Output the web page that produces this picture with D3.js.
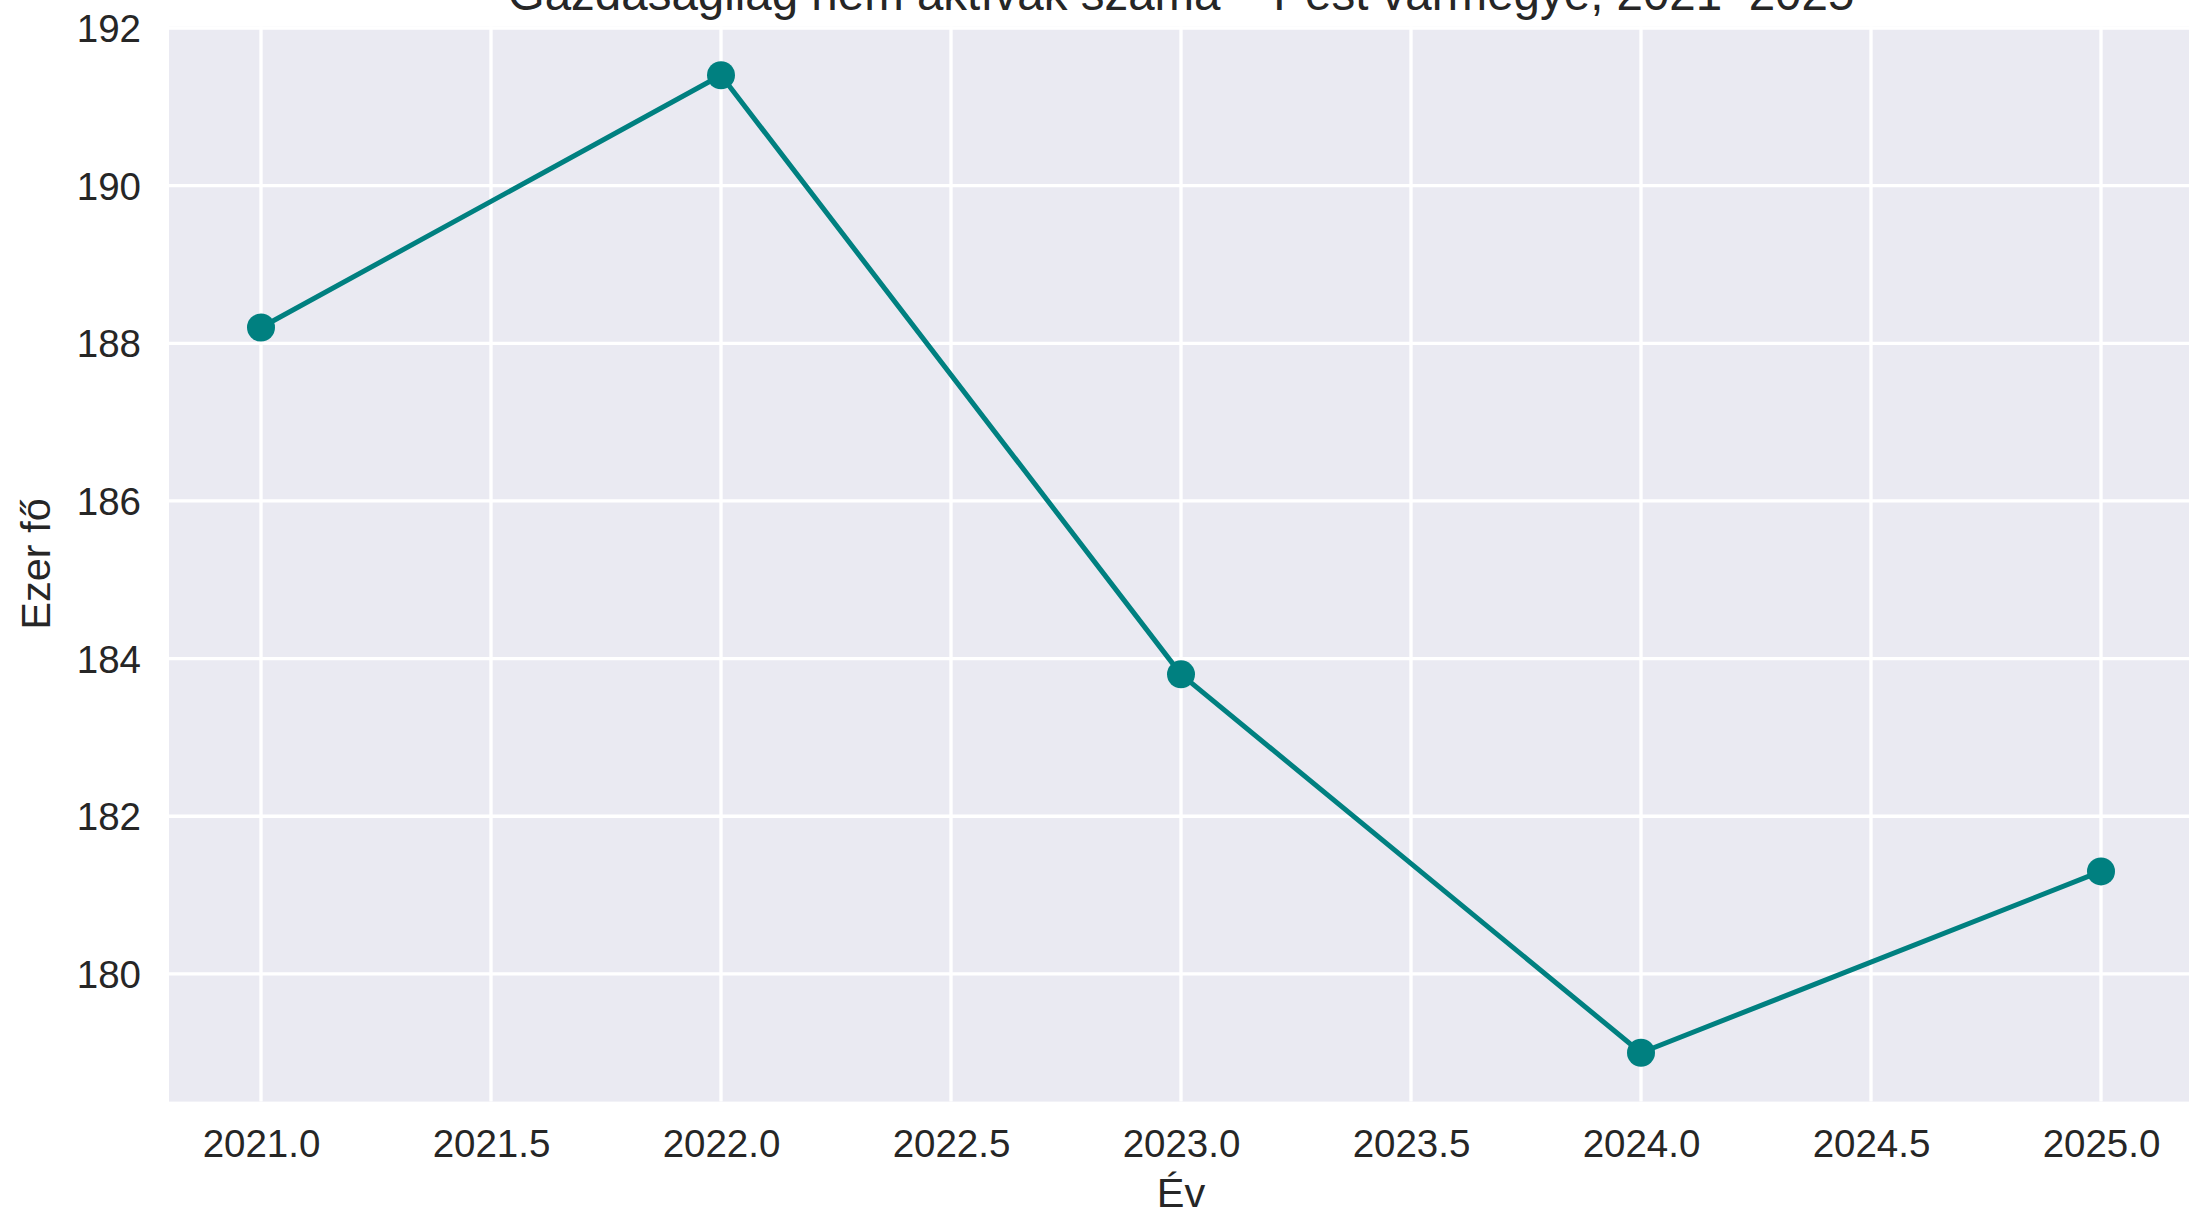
<!DOCTYPE html>
<html>
<head>
<meta charset="utf-8">
<script src="https://cdn.jsdelivr.net/npm/d3@7/dist/d3.min.js"></script>
<style>
  html, body { margin: 0; padding: 0; background: #ffffff; overflow: hidden; }
  svg { display: block; }
  text { font-family: "Liberation Sans", Arial, sans-serif; fill: #262626; }
</style>
</head>
<body>
<svg id="chart" width="2189" height="1214"></svg>
<script>
// ---- data ----
const years = [2021, 2022, 2023, 2024, 2025];
const values = [188.2, 191.4, 183.8, 179.0, 181.3];
const xTicks = [2021.0, 2021.5, 2022.0, 2022.5, 2023.0, 2023.5, 2024.0, 2024.5, 2025.0];
const yTicks = [180, 182, 184, 186, 188, 190, 192];
const titleText = "Gazdaságilag nem aktívak száma – Pest vármegye, 2021–2025";
const xLabelText = "Év";
const yLabelText = "Ezer fő";

// ---- layout ----
const W = 2189, H = 1214;
const plot = { left: 169, right: 2193, top: 26.4, bottom: 1101.6 };
const svg = d3.select("#chart");

const x = d3.scaleLinear().domain([2020.8, 2025.2]).range([plot.left, plot.right]);
const y = d3.scaleLinear().domain([178.38, 192.02]).range([plot.bottom, plot.top]);

// background
svg.append("rect")
  .attr("x", plot.left).attr("y", plot.top)
  .attr("width", plot.right - plot.left).attr("height", plot.bottom - plot.top)
  .attr("fill", "#EAEAF2");

// gridlines
const grid = svg.append("g");
grid.selectAll("line.vx").data(xTicks).join("line")
  .attr("x1", d => x(d)).attr("x2", d => x(d))
  .attr("y1", plot.top).attr("y2", plot.bottom)
  .attr("stroke", "#ffffff").attr("stroke-width", 3.3);
grid.selectAll("line.hy").data(yTicks).join("line")
  .attr("y1", d => y(d)).attr("y2", d => y(d))
  .attr("x1", plot.left).attr("x2", plot.right)
  .attr("stroke", "#ffffff").attr("stroke-width", 3.3);

// axes (labels only, no tick marks / domain)
const xAxis = d3.axisBottom(x).tickValues(xTicks).tickFormat(d3.format(".1f")).tickSize(0).tickPadding(0);
const gx = svg.append("g").attr("transform", `translate(0,${plot.bottom})`).call(xAxis);
gx.select(".domain").remove();
gx.selectAll("text")
  .attr("y", 0).attr("dy", 0)
  .attr("transform", "translate(0,55)")
  .style("font-size", "38.5px").style("fill", "#262626")
  .style("font-family", "'Liberation Sans', Arial, sans-serif");

const yAxis = d3.axisLeft(y).tickValues(yTicks).tickFormat(d3.format("d")).tickSize(0).tickPadding(0);
const gy = svg.append("g").attr("transform", `translate(${plot.left},0)`).call(yAxis);
gy.select(".domain").remove();
gy.selectAll("text")
  .attr("x", -28).attr("dy", "0.35em")
  .style("font-size", "38.5px").style("fill", "#262626")
  .style("font-family", "'Liberation Sans', Arial, sans-serif");

// line + markers
const line = d3.line().x((d, i) => x(years[i])).y(d => y(d));
svg.append("path").datum(values)
  .attr("d", line)
  .attr("fill", "none")
  .attr("stroke", "#008080")
  .attr("stroke-width", 5)
  .attr("stroke-linejoin", "round");
svg.selectAll("circle.pt").data(values).join("circle")
  .attr("class", "pt")
  .attr("cx", (d, i) => x(years[i]))
  .attr("cy", d => y(d))
  .attr("r", 14)
  .attr("fill", "#008080");

// title (cut off at the top, as in the reference)
svg.append("text")
  .attr("x", (plot.left + plot.right) / 2)
  .attr("y", 10)
  .attr("text-anchor", "middle")
  .style("font-size", "47.5px")
  .text(titleText);

// axis labels
svg.append("text")
  .attr("x", (plot.left + plot.right) / 2)
  .attr("y", 1207)
  .attr("text-anchor", "middle")
  .style("font-size", "41.5px")
  .text(xLabelText);

svg.append("text")
  .attr("transform", `translate(50,${(plot.top + plot.bottom) / 2}) rotate(-90)`)
  .attr("text-anchor", "middle")
  .style("font-size", "41.5px")
  .text(yLabelText);
</script>
</body>
</html>
